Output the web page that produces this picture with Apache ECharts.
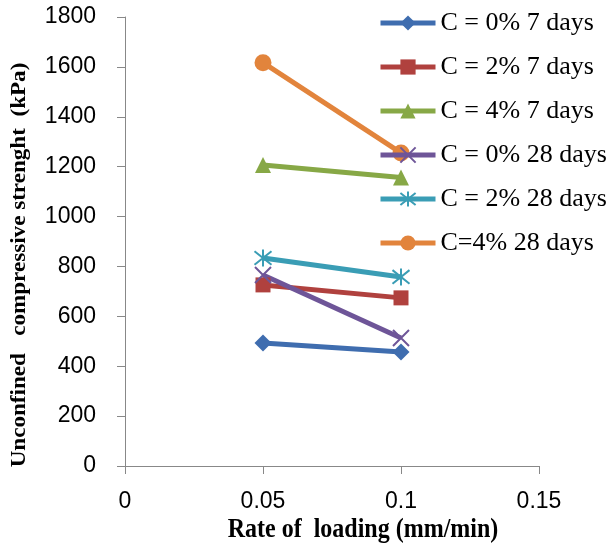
<!DOCTYPE html>
<html><head><meta charset="utf-8">
<script src="https://cdn.jsdelivr.net/npm/echarts@6/dist/echarts.min.js"></script>
<style>html,body{margin:0;padding:0;background:#fff}#c{width:610px;height:549px}</style>
</head><body><div id="c"></div>
<script>
const rates = [0.05, 0.1];
const seriesNames = ['C = 0% 7 days','C = 2% 7 days','C = 4% 7 days','C = 0% 28 days','C = 2% 28 days','C=4% 28 days'];
const c0_7 = [493, 457];
const c2_7 = [726, 674];
const c4_7 = [1207, 1157];
const c0_28 = [766, 513];
const c2_28 = [834, 758];
const c4_28 = [1617, 1255];
const yTicks = {min:0, max:1800, interval:200};
const xTicks = {min:0, max:0.15, interval:0.05};

const colors = ['#3F6DAF','#B0413E','#87A846','#6E5598','#3A9DB5','#E2843C'];
const symbols = [
  ['diamond', 17],
  ['rect', 15],
  ['triangle', 16],
  ['path://M0,0L10,10M10,0L0,10', 16],
  ['path://M5,0L5,10M1,1L9,9M9,1L1,9', 17],
  ['circle', 17]
];
const values = [c0_7, c2_7, c4_7, c0_28, c2_28, c4_28];
const stroked = [false,false,false,true,true,false];

const chart = echarts.init(document.getElementById('c'), null, {renderer:'canvas'});
const series = values.map((v,i)=>({
  name: seriesNames[i],
  type:'line',
  data: rates.map((r,j)=>[r, v[j]]),
  symbol: symbols[i][0],
  symbolSize: symbols[i][1],
  lineStyle:{width:5, color:colors[i]},
  itemStyle: stroked[i] ? {color:colors[i], borderColor:colors[i], borderWidth:2} : {color:colors[i]},
  z: i===4?3:2
}));
const axisLine = {show:true, lineStyle:{color:'#888', width:1}};
chart.setOption({
  animation:false,
  grid:{left:125, right:71, top:17, bottom:83},
  legend:{
    orient:'vertical', left:378, top:10, padding:0, itemWidth:55, itemHeight:19, itemGap:18,
    data: seriesNames,
    lineStyle:{width:5},
    textStyle:{fontFamily:'Liberation Serif', fontSize:26, color:'#000', lineHeight:26}
  },
  xAxis:{type:'value', min:xTicks.min, max:xTicks.max, interval:xTicks.interval,
    axisLine, axisTick:{show:true, length:8, lineStyle:{color:'#888'}}, splitLine:{show:false},
    axisLabel:{fontFamily:'Liberation Sans', fontSize:23, color:'#000', margin:24}},
  yAxis:{type:'value', min:yTicks.min, max:yTicks.max, interval:yTicks.interval,
    axisLine, axisTick:{show:true, length:8, lineStyle:{color:'#888'}}, splitLine:{show:false},
    axisLabel:{fontFamily:'Liberation Sans', fontSize:23, color:'#000', margin:29, formatter:(v)=>String(v)}},
  graphic:[
    {type:'text', x:363, y:530, scaleY:1.15, style:{text:'Rate of  loading (mm/min)', font:'bold 24px "Liberation Serif"', fill:'#000', textAlign:'center', textVerticalAlign:'middle'}},
    {type:'text', x:19, y:265, rotation:Math.PI/2, scaleX:1.05, style:{text:'Unconfined   compressive strenght  (kPa)', font:'bold 22px "Liberation Serif"', fill:'#000', textAlign:'center', textVerticalAlign:'middle'}}
  ],
  series
});
</script></body></html>
